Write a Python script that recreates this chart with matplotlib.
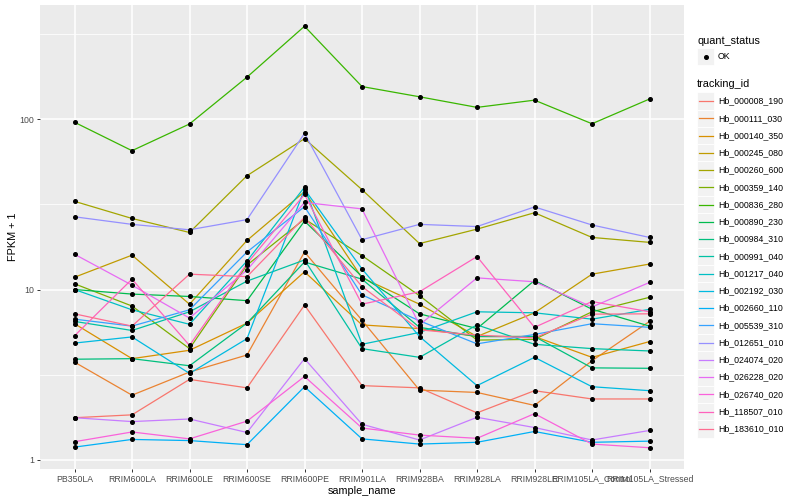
import matplotlib
matplotlib.use("Agg")
import matplotlib.pyplot as plt
from matplotlib.ticker import FixedLocator, NullFormatter
from matplotlib.patches import Rectangle
from matplotlib.lines import Line2D

plt.rcParams['font.family'] = ['Liberation Sans', 'DejaVu Sans']

samples = ["PB350LA", "RRIM600LA", "RRIM600LE", "RRIM600SE", "RRIM600PE", "RRIM901LA",
           "RRIM928BA", "RRIM928LA", "RRIM928LE", "RRIM105LA_Control", "RRIM105LA_Stressed"]

tracking_ids = ["Hb_000008_190", "Hb_000111_030", "Hb_000140_350", "Hb_000245_080",
                "Hb_000260_600", "Hb_000359_140", "Hb_000836_280", "Hb_000890_230",
                "Hb_000984_310", "Hb_000991_040", "Hb_001217_040", "Hb_002192_030",
                "Hb_002660_110", "Hb_005539_310", "Hb_012651_010", "Hb_024074_020",
                "Hb_026228_020", "Hb_026740_020", "Hb_118507_010", "Hb_183610_010"]

colors = ["#F8766D", "#EA8331", "#D89000", "#C09B00", "#A3A500", "#7CAE00", "#39B600",
          "#00BB4E", "#00BF7D", "#00C1A3", "#00BFC4", "#00BAE0", "#00B0F6", "#35A2FF",
          "#9590FF", "#C77CFF", "#E76BF3", "#FA62DB", "#FF62BC", "#FF6C91"]

# FPKM + 1 values per gene, one per sample
hb_000008_190 = [1.77, 1.84, 2.97, 2.65, 8.1, 2.73, 2.65, 1.89, 2.55, 2.28, 2.28]
hb_000111_030 = [3.75, 2.4, 3.28, 4.13, 16.6, 6.6, 2.57, 2.49, 2.09, 3.82, 6.5]
hb_000140_350 = [6.3, 3.93, 4.4, 6.35, 12.7, 6.2, 5.9, 5.3, 5.3, 4.0, 4.95]
hb_000245_080 = [11.8, 15.9, 8.2, 19.4, 37.5, 11.7, 8.2, 5.3, 7.3, 12.3, 14.1]
hb_000260_600 = [32.9, 26.1, 21.6, 46.5, 76.7, 38.5, 18.6, 22.6, 28.2, 20.2, 18.9]
hb_000359_140 = [10.8, 8.0, 4.5, 13.9, 25.9, 15.8, 9.2, 5.05, 5.1, 7.4, 9.0]
hb_000836_280 = [95.7, 65.2, 93.5, 176, 350, 155, 135, 117, 129, 93.8, 131]
hb_000890_230 = [10.0, 9.4, 9.1, 8.6, 25.2, 11.9, 7.2, 5.9, 11.3, 7.66, 6.1]
hb_000984_310 = [3.9, 3.93, 3.57, 6.35, 14.5, 11.5, 6.0, 5.3, 5.3, 3.47, 3.45]
hb_000991_040 = [6.5, 5.75, 7.4, 11.2, 14.9, 4.5, 4.0, 6.2, 4.77, 4.5, 4.36]
hb_001217_040 = [10.0, 7.6, 6.25, 14.7, 39.8, 4.77, 5.6, 7.4, 7.3, 6.7, 7.65]
hb_002192_030 = [4.85, 5.27, 3.22, 5.15, 38.7, 13.2, 5.3, 2.73, 4.0, 2.69, 2.55]
hb_002660_110 = [1.19, 1.32, 1.30, 1.23, 2.69, 1.33, 1.24, 1.27, 1.47, 1.27, 1.29]
hb_005539_310 = [6.7, 6.1, 7.6, 16.6, 30.6, 9.3, 6.55, 4.8, 5.45, 6.3, 6.0]
hb_012651_010 = [26.7, 24.1, 22.4, 25.7, 82.4, 19.6, 24.1, 23.4, 30.5, 23.9, 20.2]
hb_024074_020 = [1.77, 1.68, 1.74, 1.45, 3.93, 1.62, 1.31, 1.78, 1.55, 1.31, 1.49]
hb_026228_020 = [16.1, 10.6, 6.8, 13.0, 32.4, 29.7, 6.2, 11.7, 11.1, 7.9, 11.0]
hb_026740_020 = [1.28, 1.46, 1.33, 1.69, 3.09, 1.54, 1.40, 1.34, 1.87, 1.24, 1.18]
hb_118507_010 = [5.35, 11.5, 4.7, 14.2, 36.1, 8.2, 9.7, 15.6, 6.0, 8.5, 7.4]
hb_183610_010 = [7.2, 6.1, 12.3, 11.9, 26.5, 10.4, 5.8, 5.4, 5.2, 7.17, 7.2]

series = [hb_000008_190, hb_000111_030, hb_000140_350, hb_000245_080, hb_000260_600,
          hb_000359_140, hb_000836_280, hb_000890_230, hb_000984_310, hb_000991_040,
          hb_001217_040, hb_002192_030, hb_002660_110, hb_005539_310, hb_012651_010,
          hb_024074_020, hb_026228_020, hb_026740_020, hb_118507_010, hb_183610_010]

W, H = 800, 500
fig = plt.figure(figsize=(8, 5), dpi=100, facecolor="white")
ax = fig.add_axes([40 / W, 31 / H, 644 / W, 464 / H])
ax.set_facecolor("#EBEBEB")

x = list(range(len(samples)))
for vals, c in zip(series, colors):
    ax.plot(x, vals, color=c, lw=0.9, zorder=2, solid_capstyle="butt")
for vals in series:
    ax.plot(x, vals, linestyle="none", marker="o", ms=2.6, color="black", zorder=3)

ax.set_yscale("log")
ax.set_ylim(0.8855, 466.3)
ax.set_xlim(-0.6, len(samples) - 1 + 0.6)
ax.set_xticks(x)
ax.set_xticklabels(samples)
ax.yaxis.set_major_locator(FixedLocator([1, 10, 100]))
ax.set_yticklabels(["1", "10", "100"])
ax.yaxis.set_minor_locator(FixedLocator([10 ** 0.5, 10 ** 1.5, 10 ** 2.5]))
ax.yaxis.set_minor_formatter(NullFormatter())
ax.grid(True, which="major", color="white", lw=1.1, zorder=0)
ax.grid(True, which="minor", axis="y", color="white", lw=0.55, zorder=0)
ax.set_axisbelow(True)
for s in ax.spines.values():
    s.set_visible(False)
ax.tick_params(axis="both", which="major", length=2.5, width=0.7, color="#333333",
               labelsize=6.3, labelcolor="#4D4D4D", pad=1.5)
ax.tick_params(axis="y", which="minor", length=0)
ax.set_xlabel("sample_name", fontsize=7.8, color="black", labelpad=1.5)
ax.set_ylabel("FPKM + 1", fontsize=7.8, color="black", labelpad=1.5)

# legend drawn in figure pixel coordinates
lax = fig.add_axes([0, 0, 1, 1], facecolor="none")
lax.set_xlim(0, W)
lax.set_ylim(H, 0)
lax.axis("off")

kx, kw = 697, 17
lax.text(kx, 40.5, "quant_status", fontsize=7.8, va="center", ha="left")
lax.add_patch(Rectangle((kx, 48.2), kw, 17, facecolor="#F2F2F2", edgecolor="white", lw=0.6))
lax.plot([kx + kw / 2], [56.7], marker="o", ms=2.6, color="black", linestyle="none")
lax.text(718, 56.7, "OK", fontsize=6.3, va="center", ha="left")

lax.text(kx, 84.3, "tracking_id", fontsize=7.8, va="center", ha="left")
step = 17.26
for i, (tid, c) in enumerate(zip(tracking_ids, colors)):
    yc = 101 + step * i
    lax.add_patch(Rectangle((kx, yc - step / 2), kw, step, facecolor="#F2F2F2",
                            edgecolor="white", lw=0.6))
    lax.add_line(Line2D([kx + 1.5, kx + kw - 1.5], [yc, yc], color=c, lw=0.9))
    lax.text(718, yc, tid, fontsize=6.3, va="center", ha="left")

fig.savefig("out.png", dpi=100, facecolor="white")
